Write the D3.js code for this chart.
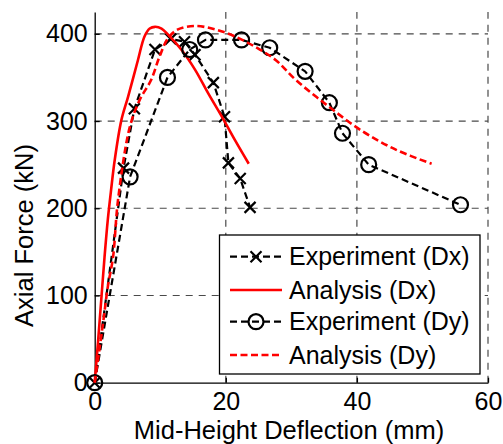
<!DOCTYPE html>
<html>
<head>
<meta charset="utf-8">
<script src="https://cdn.jsdelivr.net/npm/d3@7"></script>
<style>
  html, body { margin: 0; padding: 0; background: #fff; }
  svg { display: block; font-family: "Liberation Sans", Arial, Helvetica, sans-serif; }
</style>
</head>
<body>
<svg id="chart" width="503" height="444"></svg>
<script>
// Measured axial force vs. mid-height deflection, two directions
const expDxX = [0, 4.4, 6.05, 9.2, 11.6, 13.7, 15.3, 18.1, 19.8, 20.4, 22.2, 23.7];
const expDxY = [0, 246, 314, 382, 394, 391, 376, 344, 305, 252, 234, 201];

const anaDxX = [0, 0.5, 1.0, 1.5, 2.0, 2.5, 3.05, 4.07, 5.1, 6.6, 7.6, 8.4, 9.2, 10.2, 11.2, 13.2, 15.3, 17.3, 19.4, 21.4, 23.5];
const anaDxY = [0, 46, 95, 144, 187, 221, 255, 301, 328, 370, 397, 406, 408, 406, 399, 382, 359, 332, 305, 278, 251];

const expDyX = [0, 5.4, 11.1, 14.5, 16.9, 22.4, 26.7, 32.1, 35.8, 37.8, 41.8, 55.8];
const expDyY = [0, 236, 350, 382, 393, 393, 384, 357, 321, 286, 250, 204];

const anaDyX = [0, 1.27, 2.0, 2.8, 3.55, 5.35, 6.85, 8.6, 9.9, 11.2, 12.7, 15.3, 18.4, 21.4, 24.5, 27.6, 30.7, 35.8, 40.9, 46.0, 51.4];
const anaDyY = [0, 68, 110, 144, 209, 293, 324, 347, 374, 395, 405, 409, 405, 397, 385, 370, 347, 316, 288, 267, 251];

const xTicks = [0, 20, 40, 60];
const yTicks = [0, 100, 200, 300, 400];

const seriesNames = ["Experiment (Dx)", "Analysis (Dx)", "Experiment (Dy)", "Analysis (Dy)"];

const zip = (xs, ys) => xs.map((v, i) => [v, ys[i]]);

const svg = d3.select("#chart");
const plotL = 94.7, plotR = 488, plotT = 12, plotB = 382.7;

const x = d3.scaleLinear().domain([0, 60]).range([plotL, plotR]);
const y = d3.scaleLinear().domain([0, 425]).range([plotB, plotT]);

const fontSize = 25;
const titleSize = 25.5;

// grid
const grid = svg.append("g").attr("stroke", "#4a4a4a").attr("stroke-width", 1.2)
  .attr("stroke-dasharray", "7,6").attr("fill", "none");
grid.selectAll("line.v").data(xTicks.filter(d => d > 0)).join("line")
  .attr("class", "v")
  .attr("x1", d => x(d)).attr("x2", d => x(d))
  .attr("y1", plotB).attr("y2", plotT);
grid.selectAll("line.h").data(yTicks.filter(d => d > 0)).join("line")
  .attr("class", "h")
  .attr("y1", d => y(d)).attr("y2", d => y(d))
  .attr("x1", plotL).attr("x2", plotR);

// axes (inward ticks)
const xAxis = d3.axisBottom(x).tickValues(xTicks).tickSizeInner(-5).tickSizeOuter(0).tickPadding(9.5);
const yAxis = d3.axisLeft(y).tickValues(yTicks).tickSizeInner(-5).tickSizeOuter(0).tickPadding(7);

const gx = svg.append("g").attr("transform", `translate(0,${plotB})`).call(xAxis);
const gy = svg.append("g").attr("transform", `translate(${plotL},0)`).call(yAxis);
[gx, gy].forEach(g => {
  g.select(".domain").attr("stroke", "#000").attr("stroke-width", 1.3);
  g.selectAll(".tick line").attr("stroke", "#000").attr("stroke-width", 1.3);
  g.selectAll(".tick text").attr("fill", "#000")
    .style("font-size", fontSize + "px")
    .style("font-family", "'Liberation Sans', Arial, sans-serif");
});

// axis titles
svg.append("text")
  .attr("x", 289).attr("y", 438.5)
  .attr("text-anchor", "middle")
  .style("font-size", titleSize + "px")
  .text("Mid-Height Deflection (mm)");
svg.append("text")
  .attr("transform", `translate(33,235.5) rotate(-90)`)
  .attr("text-anchor", "middle")
  .style("font-size", titleSize + "px")
  .text("Axial Force (kN)");

// series
const straight = d3.line().x(d => x(d[0])).y(d => y(d[1]));
const smooth = d3.line().x(d => x(d[0])).y(d => y(d[1])).curve(d3.curveCatmullRom.alpha(0.5));
const plot = svg.append("g").attr("fill", "none");

const styles = [
  { stroke: "#000", dash: "7,4", width: 2.2, marker: "x", gen: straight },
  { stroke: "#ff0000", dash: null, width: 2.6, marker: null, gen: smooth },
  { stroke: "#000", dash: "7,4", width: 2.2, marker: "o", gen: straight },
  { stroke: "#ff0000", dash: "7,3.5", width: 2.6, marker: null, gen: smooth }
];
const data = [zip(expDxX, expDxY), zip(anaDxX, anaDxY), zip(expDyX, expDyY), zip(anaDyX, anaDyY)];

function drawMarker(g, kind, cx, cy) {
  if (kind === "x") {
    const s = 5.5;
    g.append("path")
      .attr("d", `M${cx - s},${cy - s}L${cx + s},${cy + s}M${cx - s},${cy + s}L${cx + s},${cy - s}`)
      .attr("stroke", "#000").attr("stroke-width", 2.2).attr("fill", "none");
  } else if (kind === "o") {
    g.append("circle").attr("cx", cx).attr("cy", cy).attr("r", 7.5)
      .attr("stroke", "#000").attr("stroke-width", 2.2).attr("fill", "none");
  }
}

data.forEach((pts, i) => {
  const st = styles[i];
  const g = plot.append("g");
  g.append("path").datum(pts)
    .attr("d", st.gen)
    .attr("stroke", st.stroke)
    .attr("stroke-width", st.width)
    .attr("stroke-dasharray", st.dash)
    .attr("stroke-linejoin", "round");
  if (st.marker) pts.forEach(p => drawMarker(g, st.marker, x(p[0]), y(p[1])));
});

// legend
const lg = svg.append("g");
const lx = 219.5, ly = 235, lw = 260.5, lh = 139;
lg.append("rect").attr("x", lx).attr("y", ly).attr("width", lw).attr("height", lh)
  .attr("fill", "#fff").attr("stroke", "#000").attr("stroke-width", 1.3);
const rowY = [256.7, 290, 321.7, 355];
seriesNames.forEach((name, i) => {
  const st = styles[i];
  const yy = rowY[i];
  lg.append("line").attr("x1", 230).attr("x2", 282).attr("y1", yy).attr("y2", yy)
    .attr("stroke", st.stroke).attr("stroke-width", st.width)
    .attr("stroke-dasharray", st.dash);
  if (st.marker) drawMarker(lg, st.marker, 256, yy);
  lg.append("text").attr("x", 289).attr("y", yy).attr("dy", "0.35em")
    .style("font-size", fontSize + "px").text(name);
});
</script>
</body>
</html>
